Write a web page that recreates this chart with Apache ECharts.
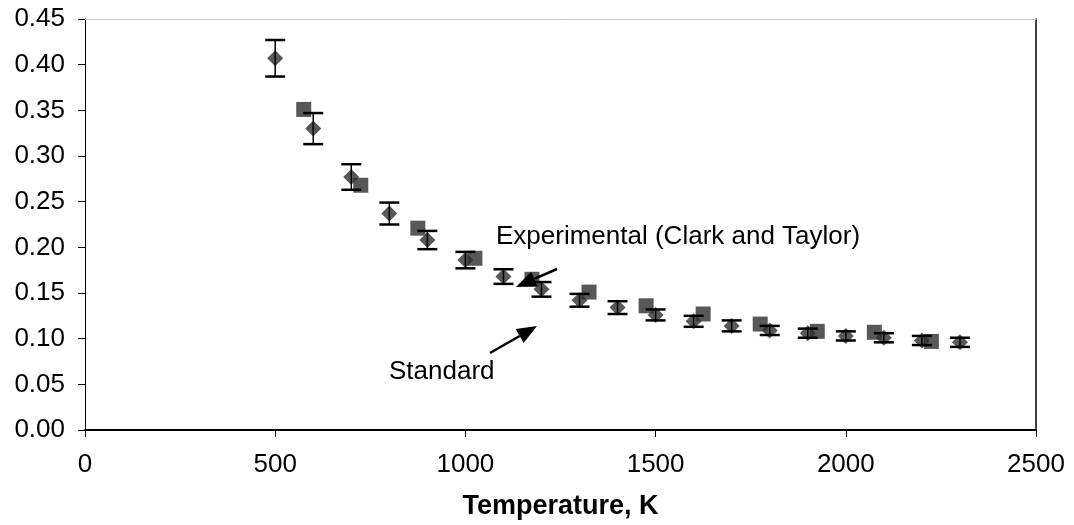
<!DOCTYPE html>
<html>
<head>
<meta charset="utf-8">
<script src="https://cdn.jsdelivr.net/npm/echarts@6/dist/echarts.min.js"></script>
<style>
  html, body { margin: 0; padding: 0; background: #fff; }
  #main { width: 1074px; height: 525px; }
</style>
</head>
<body>
<div id="main"></div>
<script>
// standard values (diamonds, with error bars)
const stdTemps = [500, 600, 700, 800, 900, 1000, 1100, 1200, 1300, 1400, 1500, 1600, 1700, 1800, 1900, 2000, 2100, 2200, 2300];
const stdValues = [0.407, 0.330, 0.277, 0.237, 0.208, 0.186, 0.168, 0.154, 0.142, 0.134, 0.126, 0.119, 0.114, 0.109, 0.106, 0.103, 0.101, 0.098, 0.096];
const stdErrors = [0.020, 0.017, 0.014, 0.012, 0.010, 0.009, 0.008, 0.008, 0.007, 0.007, 0.006, 0.006, 0.006, 0.005, 0.005, 0.005, 0.005, 0.005, 0.005];
// experimental (Clark and Taylor), squares
const expTemps = [575, 725, 875, 1025, 1175, 1325, 1475, 1625, 1775, 1925, 2075, 2225];
const expValues = [0.351, 0.268, 0.221, 0.188, 0.165, 0.151, 0.136, 0.127, 0.116, 0.108, 0.107, 0.097];
// axis ticks
const xTicks = [0, 2500, 500];
const yTicks = [0, 0.45, 0.05];

const font = "'Liberation Sans', Arial, sans-serif";

let stdData = stdTemps.map((t, i) => [t, stdValues[i]]);
let expData = expTemps.map((t, i) => [t, expValues[i]]);
let errData = stdTemps.map((t, i) => [t, stdValues[i] - stdErrors[i], stdValues[i] + stdErrors[i]]);

function arrow(x1, y1, x2, y2) {
  // line with a filled triangular head at (x2, y2)
  let dx = x2 - x1, dy = y2 - y1;
  let len = Math.sqrt(dx * dx + dy * dy);
  let ux = dx / len, uy = dy / len;
  let hl = 20, hw = 8;
  let bx = x2 - ux * hl, by = y2 - uy * hl;
  return [
    {
      type: "line",
      shape: { x1: x1, y1: y1, x2: bx, y2: by },
      style: { stroke: "#000", lineWidth: 2.5 },
      z: 100
    },
    {
      type: "polygon",
      shape: { points: [[x2, y2], [bx - uy * hw, by + ux * hw], [bx + uy * hw, by - ux * hw]] },
      style: { fill: "#000" },
      z: 100
    }
  ];
}

let chart = echarts.init(document.getElementById("main"));
let option = {
  animation: false,
  backgroundColor: "#fff",
  textStyle: { fontFamily: font },
  grid: { left: 85, right: 38, top: 19, bottom: 95, show: false },
  xAxis: [
    {
      type: "value",
      min: xTicks[0],
      max: xTicks[1],
      interval: xTicks[2],
      name: "Temperature, K",
      nameLocation: "middle",
      nameGap: 63,
      nameTextStyle: { fontFamily: font, fontSize: 27, fontWeight: "bold", color: "#000" },
      axisLine: { onZero: false, lineStyle: { color: "#000", width: 2 } },
      axisTick: { show: true, inside: false, length: 7, lineStyle: { color: "#000", width: 1 } },
      axisLabel: { fontFamily: font, fontSize: 26, color: "#000", margin: 22, formatter: v => String(v) },
      splitLine: { show: false }
    },
    {
      type: "value",
      position: "top",
      min: xTicks[0],
      max: xTicks[1],
      axisLine: { show: true, onZero: false, lineStyle: { color: "#c8c8c8", width: 1 } },
      axisTick: { show: false },
      axisLabel: { show: false },
      splitLine: { show: false }
    }
  ],
  yAxis: [
    {
      type: "value",
      min: yTicks[0],
      max: yTicks[1],
      interval: yTicks[2],
      axisLine: { show: true, onZero: false, lineStyle: { color: "#000", width: 1 } },
      axisTick: { show: true, inside: false, length: 7, lineStyle: { color: "#000", width: 1 } },
      axisLabel: {
        fontFamily: font,
        fontSize: 26,
        color: "#000",
        margin: 20,
        formatter: v => v.toFixed(2)
      },
      splitLine: { show: false }
    },
    {
      type: "value",
      position: "right",
      min: yTicks[0],
      max: yTicks[1],
      axisLine: { show: true, onZero: false, lineStyle: { color: "#000", width: 1.5 } },
      axisTick: { show: false },
      axisLabel: { show: false },
      splitLine: { show: false }
    }
  ],
  series: [
    {
      name: "Experimental (Clark and Taylor)",
      type: "scatter",
      data: expData,
      symbol: "rect",
      symbolSize: 15,
      itemStyle: { color: "#2e2e2e" },
      z: 2
    },
    {
      name: "Standard",
      type: "scatter",
      data: stdData,
      symbol: "diamond",
      symbolSize: [16, 16],
      itemStyle: { color: "#2e2e2e" },
      z: 3
    },
    {
      name: "error",
      type: "custom",
      data: errData,
      z: 4,
      renderItem: function (params, api) {
        let x = api.value(0);
        let lo = api.coord([x, api.value(1)]);
        let hi = api.coord([x, api.value(2)]);
        let cap = 10;
        let st = { stroke: "#000", lineWidth: 2.5 };
        return {
          type: "group",
          children: [
            { type: "line", shape: { x1: lo[0], y1: lo[1], x2: hi[0], y2: hi[1] }, style: { stroke: "#000", lineWidth: 1.5 } },
            { type: "line", shape: { x1: lo[0] - cap, y1: lo[1], x2: lo[0] + cap, y2: lo[1] }, style: st },
            { type: "line", shape: { x1: hi[0] - cap, y1: hi[1], x2: hi[0] + cap, y2: hi[1] }, style: st }
          ]
        };
      }
    }
  ],
  graphic: [
    {
      type: "text",
      left: 496,
      top: 224,
      style: { text: "Experimental (Clark and Taylor)", font: "26px " + font, fill: "#000" },
      z: 100
    },
    {
      type: "text",
      left: 389,
      top: 359,
      style: { text: "Standard", font: "26px " + font, fill: "#000" },
      z: 100
    }
  ]
    .concat(arrow(557, 269, 516, 287))
    .concat(arrow(490, 353, 537, 326))
};
chart.setOption(option);
window.addEventListener("resize", chart.resize);
</script>
</body>
</html>
